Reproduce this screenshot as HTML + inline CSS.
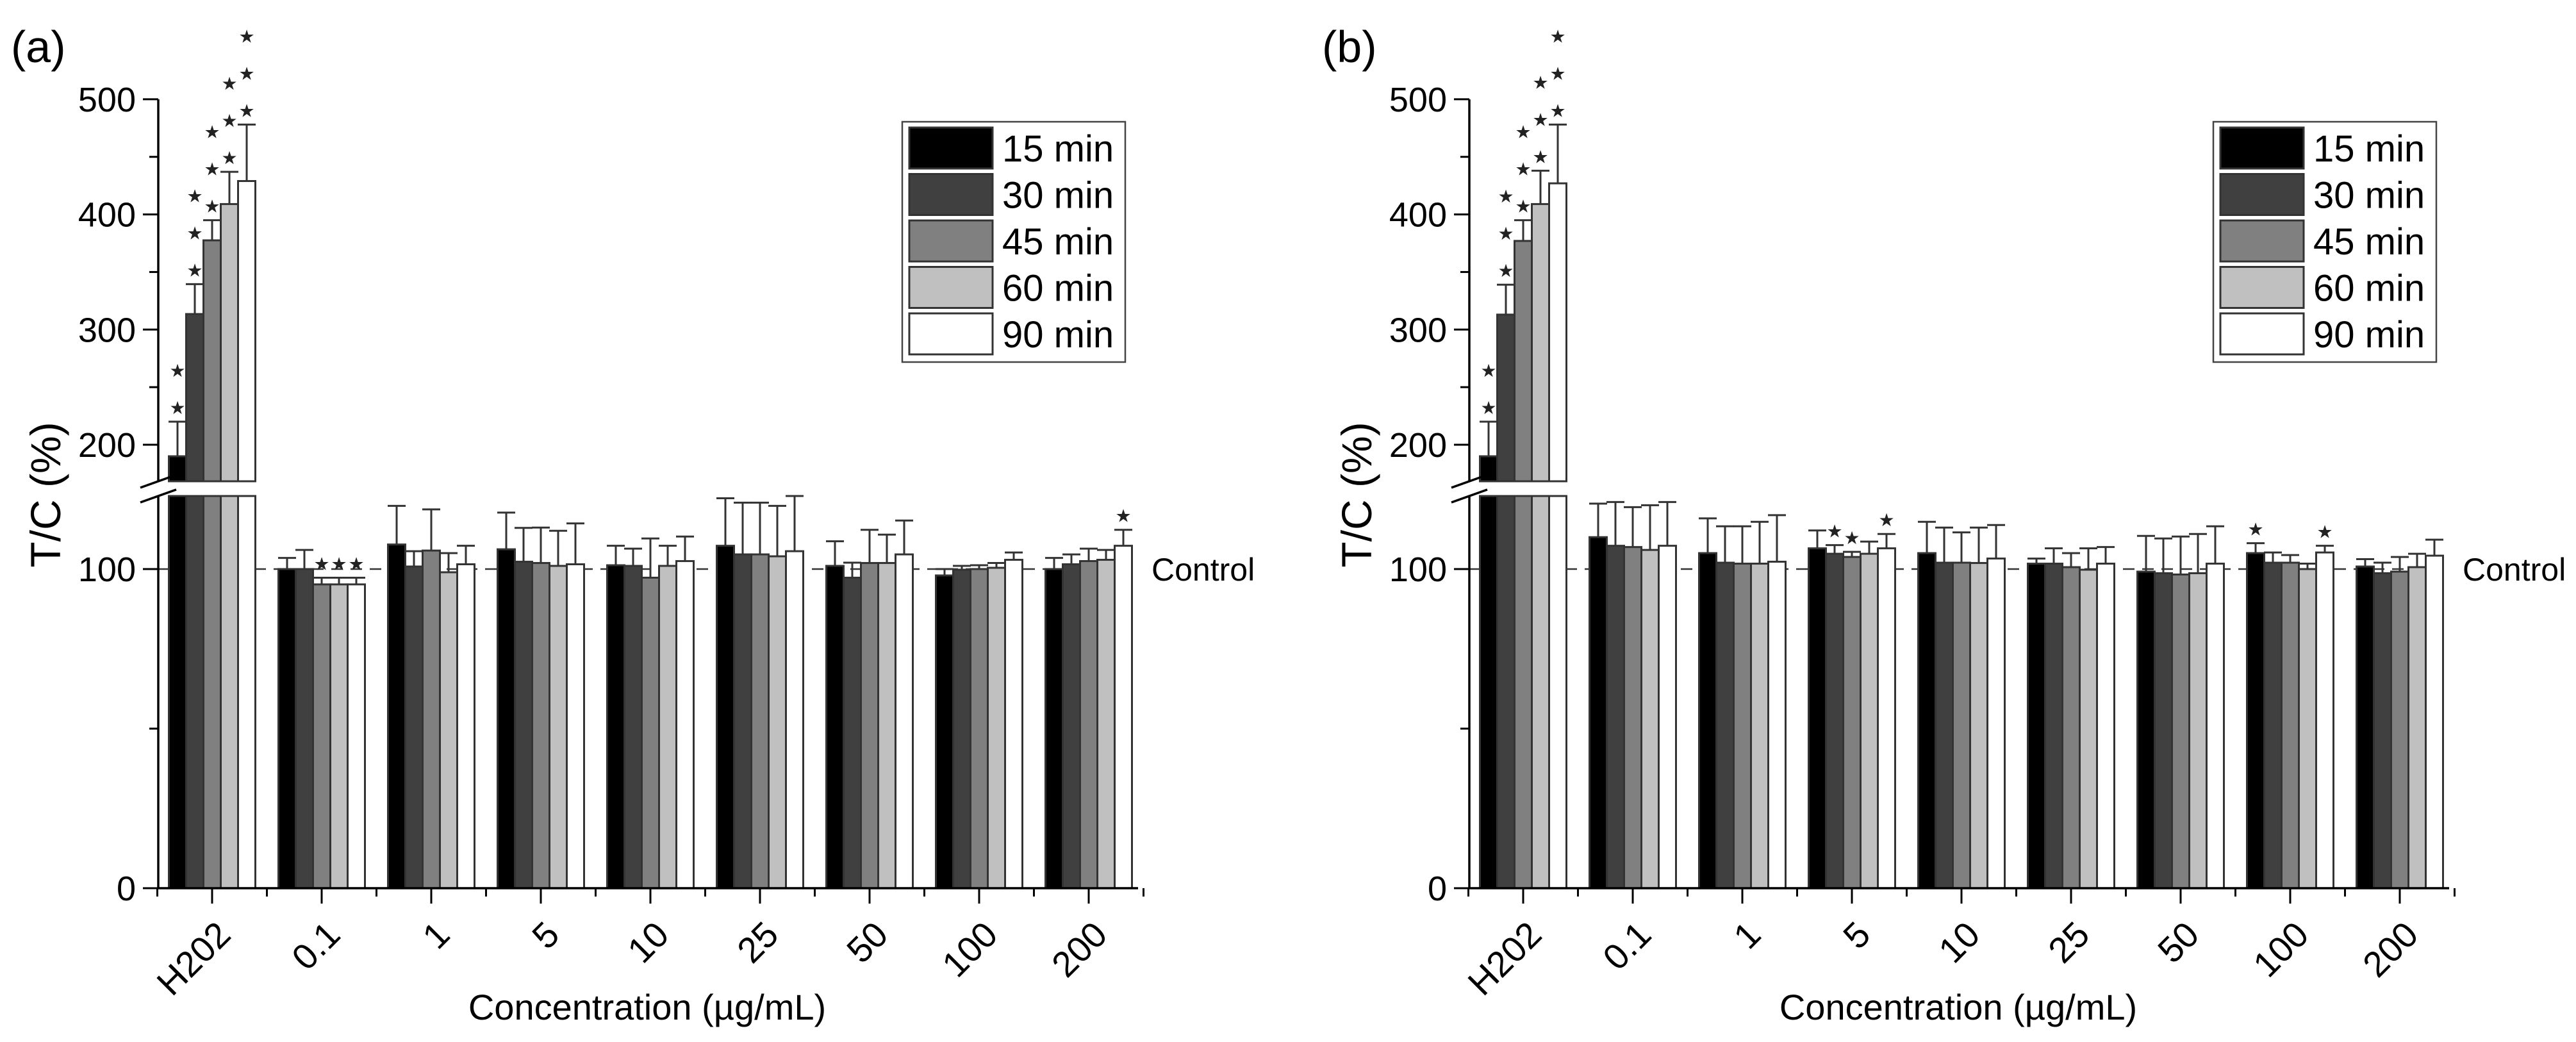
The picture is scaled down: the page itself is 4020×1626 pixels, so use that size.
<!DOCTYPE html>
<html><head><meta charset="utf-8">
<style>
html,body{margin:0;padding:0;background:#fff;}
svg{display:block;font-family:"Liberation Sans",Arial,sans-serif;}
</style></head>
<body>
<svg id="chart" width="4020" height="1626" viewBox="0 0 4020 1626" xmlns="http://www.w3.org/2000/svg"></svg>
<script>
const categories = ["H202","0.1","1","5","10","25","50","100","200"];
const seriesNames = ["15 min","30 min","45 min","60 min","90 min"];
const tickUpper = [200,300,400,500];
const tickLower = [0,100];
// panel (a) values: [category][series]
const aValues = [
 [190,313.5,377.5,409,429],
 [100,100,95.2,95.2,95.2],
 [107.7,100.8,105.8,99,101.5],
 [106.2,102.3,101.9,101,101.5],
 [101.2,101,97.3,101,102.5],
 [107.3,104.6,104.6,104,105.6],
 [101,97.3,101.9,101.9,104.6],
 [98,99.8,100,100.4,102.9],
 [100,101.5,102.5,102.9,107.3]
];
const aErrTop = [
 [220,339.5,395,437,478],
 [103.5,106,97.3,97.3,97.3],
 [119.8,105.6,118.7,105,107.3],
 [117.7,112.9,113,112,114.3],
 [107.3,106.4,109.6,107.3,110.2],
 [122.2,120.8,120.8,119.8,122.9],
 [108.7,102,112.3,110.8,115.2],
 [100,101,101.2,101.9,105.2],
 [103.5,104.6,106.4,106,112.3]
];
const aStars = [
 [2,3,3,3,3],[0,0,1,1,1],[0,0,0,0,0],[0,0,0,0,0],[0,0,0,0,0],[0,0,0,0,0],[0,0,0,0,0],[0,0,0,0,0],[0,0,0,0,1]
];
// panel (b)
const bValues = [
 [190,313,377,409,427],
 [110,107.3,106.9,106,107.3],
 [105,102,101.7,101.7,102.3],
 [106.5,104.8,103.8,104.8,106.5],
 [105,102,102,101.9,103.3],
 [101.7,101.7,100.6,99.8,101.7],
 [99.2,98.7,98.3,98.7,101.7],
 [105,102,102,100,105.2],
 [100.8,98.7,99.2,100.6,104.2]
];
const bErrTop = [
 [220,339,395,438,478],
 [120.5,121,119.4,120,121],
 [115.9,113.4,113.4,114.8,116.9],
 [112.1,107.5,105.4,108.6,111],
 [114.8,113,111.5,113,113.8],
 [103.3,106.5,105,106.5,106.9],
 [110.4,109.6,110.2,111,113.4],
 [108.1,105.2,104.4,101.7,107.3],
 [103.1,102,103.8,104.8,109.2]
];
const bStars = [
 [2,3,3,3,3],[0,0,0,0,0],[0,0,0,0,0],[0,1,1,0,1],[0,0,0,0,0],[0,0,0,0,0],[0,0,0,0,0],[1,0,0,0,1],[0,0,0,0,0]
];

const NS="http://www.w3.org/2000/svg";
const svg=document.getElementById('chart');
const colors=["#000000","#404040","#808080","#c0c0c0","#ffffff"];
function mk(tag,attrs,parent){const e=document.createElementNS(NS,tag);for(const k in attrs)e.setAttribute(k,attrs[k]);(parent||svg).appendChild(e);return e;}

const AX=247, XEND=1776, C0=331, SP=171, BW=27;
const UP_TOP=155, UP_BOT=751, LO_TOP=774, Y0=1386;
function yScale(v){ return v>=160 ? 694-(v-200)*1.797 : Y0 - v*4.98; }
function xCenter(i){ return C0 + i*SP; }

function panel(dx, label, values, errTop, stars, pname){
  const g=mk('g',{transform:'translate('+dx+',0)'});
  
  
  const t=mk('text',{x:17,y:97,'font-size':70,fill:'#000'},g); t.textContent=label;
  
  
  const dl=mk('line',{x1:AX,x2:XEND,y1:yScale(100),y2:yScale(100),stroke:'#333','stroke-width':2.5,'stroke-dasharray':'18 12'},g);
  
  
  const ct=mk('text',{x:1797,y:yScale(100)+18,'font-size':50,fill:'#000'},g); ct.textContent='Control';
  
  
  for(let i=0;i<categories.length;i++){
    for(let s=0;s<5;s++){
      const v=values[i][s], e=errTop[i][s];
      const x=xCenter(i)-67.5+s*BW;
      const yt=yScale(v);
      let r;
      if(v>=160){
        r=mk('rect',{x:x,y:yt,width:BW,height:UP_BOT-yt,fill:colors[s],stroke:'#333','stroke-width':3},g);
        const r2=mk('rect',{x:x,y:LO_TOP,width:BW,height:Y0-LO_TOP,fill:colors[s],stroke:'#333','stroke-width':3},g);
        
        
      } else {
        r=mk('rect',{x:x,y:yt,width:BW,height:Y0-yt,fill:colors[s],stroke:'#333','stroke-width':3},g);
      }
      
      
      const ye=yScale(e), cx=x+BW/2;
      const eb=mk('path',{d:'M'+cx+' '+yt+'V'+ye+'M'+(cx-14)+' '+ye+'H'+(cx+14),stroke:'#333','stroke-width':3,fill:'none'},g);
      
      
      for(let k=0;k<stars[i][s];k++){
        const st=mk('text',{x:cx,y:ye-22-k*58+10,'font-size':28,'text-anchor':'middle',fill:'#222'},g);
        st.textContent='★';
        
        
      }
    }
  }
  mk('rect',{x:AX+2,y:UP_BOT+2,width:380,height:LO_TOP-UP_BOT-4,fill:'#fff'},g);
  const ya=mk('path',{d:'M'+AX+' '+UP_TOP+'V'+UP_BOT+'M'+AX+' '+LO_TOP+'V'+Y0+'H'+XEND,stroke:'#000','stroke-width':3.5,fill:'none'},g);
  
  
  const br=mk('path',{d:'M'+(AX-28)+' '+(UP_BOT+10)+'L'+(AX+28)+' '+(UP_BOT-10)+'M'+(AX-28)+' '+(LO_TOP+10)+'L'+(AX+28)+' '+(LO_TOP-10),stroke:'#000','stroke-width':3.5},g);
  
  
  tickUpper.concat(tickLower).forEach(v=>{
    const y=yScale(v);
    mk('line',{x1:AX-24,x2:AX,y1:y,y2:y,stroke:'#000','stroke-width':3},g);
    const tl=mk('text',{x:AX-35,y:y+19,'font-size':54,'text-anchor':'end',fill:'#000'},g); tl.textContent=v;
    
    
  });
  [250,350,450,50].forEach(v=>{const y=yScale(v);mk('line',{x1:AX-14,x2:AX,y1:y,y2:y,stroke:'#000','stroke-width':3},g);});
  for(let i=0;i<categories.length;i++){
    const x=xCenter(i);
    mk('line',{x1:x,x2:x,y1:Y0,y2:Y0+24,stroke:'#000','stroke-width':3},g);
    mk('line',{x1:x+SP/2,x2:x+SP/2,y1:Y0,y2:Y0+13,stroke:'#000','stroke-width':3},g);
    if(i===0) mk('line',{x1:x-SP/2,x2:x-SP/2,y1:Y0,y2:Y0+13,stroke:'#000','stroke-width':3},g);
    const ax=x+32, ay=Y0+76;
    const xl=mk('text',{x:ax,y:ay,'font-size':56,'text-anchor':'end',fill:'#000',transform:'rotate(-45 '+ax+' '+ay+')'},g);
    xl.textContent=categories[i];
    
    
  }
  const xt=mk('text',{x:1010,y:1591,'font-size':56,'text-anchor':'middle',fill:'#000'},g); xt.textContent='Concentration (µg/mL)';
  
  
  const yt2=mk('text',{x:94,y:772,'font-size':66,'text-anchor':'middle',fill:'#000',transform:'rotate(-90 94 772)'},g); yt2.textContent='T/C (%)';
  
  
  const lg=mk('g',{},g);
  
  
  mk('rect',{x:1408,y:190,width:348,height:375,fill:'#fff',stroke:'#444','stroke-width':2.5},lg);
  seriesNames.forEach((n,s)=>{
    const y=199+s*72.5;
    const sw=mk('rect',{x:1419,y:y,width:130,height:64,fill:colors[s],stroke:'#333','stroke-width':3},lg);
    
    
    const lt=mk('text',{x:1564,y:y+53,'font-size':58,fill:'#000'},lg); lt.textContent=n;
    
    
  });
}
panel(0,'(a)',aValues,aErrTop,aStars,'panel-a');
panel(2046,'(b)',bValues,bErrTop,bStars,'panel-b');
</script>
</body></html>
